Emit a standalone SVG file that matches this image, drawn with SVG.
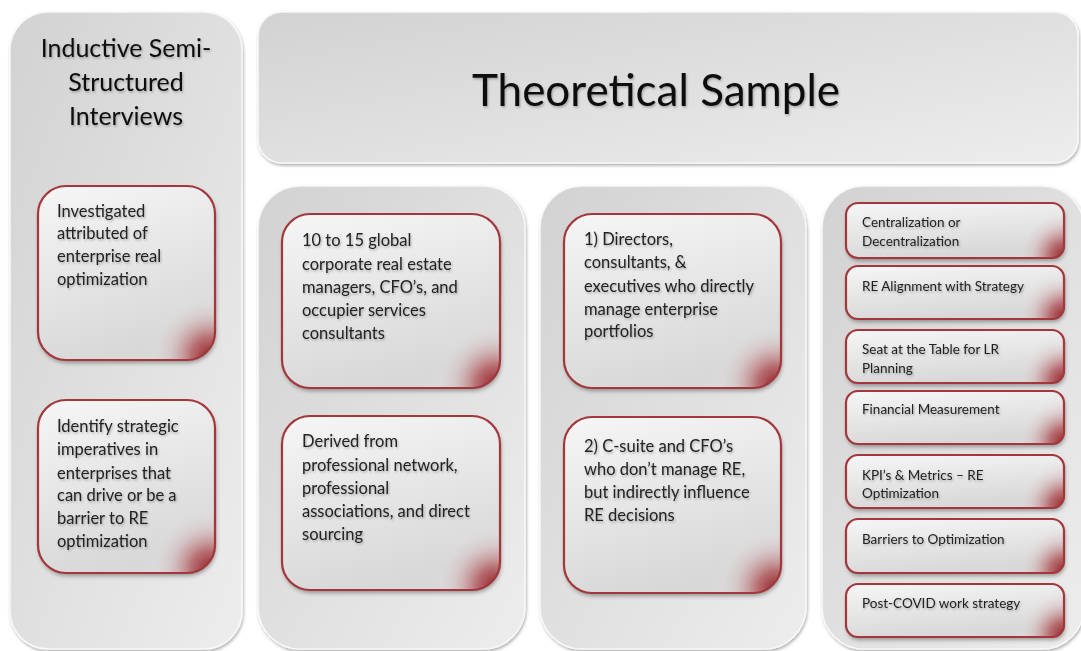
<svg xmlns="http://www.w3.org/2000/svg" width="1081" height="651" viewBox="0 0 1081 651">
  <style>
    .panel { fill: url(#panelFill); stroke: #f8f8f8; stroke-width: 1.5; filter: url(#panelShadow); }
    .box { fill: url(#boxFill); filter: url(#boxShadow); }
    .edge { fill: none; stroke: #a3373b; stroke-width: 2.2; }
    .glow { fill: url(#glowFill); }
    text { font-family: Lato, "Open Sans", "Liberation Sans", sans-serif; fill: #222; filter: url(#textShadow); }
    .title { font-size: 44px; fill: #111; }
    .head { font-size: 25px; fill: #111; text-anchor: middle; }
    .t { font-size: 16.5px; }
    .s { font-size: 13.5px; }
  </style>
  <defs>
    <linearGradient id="panelFill" x1="0" y1="0" x2="1" y2="1">
      <stop offset="0" stop-color="#d2d2d2"/>
      <stop offset="1" stop-color="#ededed"/>
    </linearGradient>
    <linearGradient id="boxFill" x1="0" y1="0" x2="0.3" y2="1">
      <stop offset="0" stop-color="#f6f6f6"/>
      <stop offset="1" stop-color="#d8d8d8"/>
    </linearGradient>
    <radialGradient id="glowFill">
      <stop offset="0" stop-color="#8a1015" stop-opacity="0.9"/>
      <stop offset="0.3" stop-color="#a2292f" stop-opacity="0.6"/>
      <stop offset="0.65" stop-color="#c98a8c" stop-opacity="0.2"/>
      <stop offset="1" stop-color="#ffffff" stop-opacity="0"/>
    </radialGradient>
    <filter id="panelShadow" x="-10%" y="-10%" width="120%" height="120%">
      <feDropShadow dx="1" dy="2" stdDeviation="1.5" flood-color="#000" flood-opacity="0.3"/>
    </filter>
    <filter id="boxShadow" x="-10%" y="-10%" width="125%" height="125%">
      <feDropShadow dx="1" dy="3" stdDeviation="2" flood-color="#000" flood-opacity="0.35"/>
    </filter>
    <filter id="textShadow" x="-5%" y="-20%" width="110%" height="150%">
      <feDropShadow dx="1" dy="1.5" stdDeviation="1.2" flood-color="#000" flood-opacity="0.28"/>
    </filter>
    <clipPath id="cL1"><rect x="38" y="186" width="177" height="174" rx="28"/></clipPath>
    <clipPath id="cL2"><rect x="38" y="400" width="177" height="173" rx="28"/></clipPath>
    <clipPath id="cA1"><rect x="282" y="214" width="218" height="174" rx="28"/></clipPath>
    <clipPath id="cA2"><rect x="282" y="416" width="218" height="174" rx="28"/></clipPath>
    <clipPath id="cB1"><rect x="564" y="214" width="217" height="174" rx="28"/></clipPath>
    <clipPath id="cB2"><rect x="564" y="417" width="217" height="176" rx="28"/></clipPath>
    <clipPath id="cC1"><rect x="846" y="203" width="218" height="55" rx="12"/></clipPath>
    <clipPath id="cC2"><rect x="846" y="266" width="218" height="53" rx="12"/></clipPath>
    <clipPath id="cC3"><rect x="846" y="330" width="218" height="53" rx="12"/></clipPath>
    <clipPath id="cC4"><rect x="846" y="391" width="218" height="53" rx="12"/></clipPath>
    <clipPath id="cC5"><rect x="846" y="455" width="218" height="53" rx="12"/></clipPath>
    <clipPath id="cC6"><rect x="846" y="519" width="218" height="54" rx="12"/></clipPath>
    <clipPath id="cC7"><rect x="846" y="584" width="218" height="53" rx="12"/></clipPath>
  </defs>

  <rect width="1081" height="651" fill="#ffffff"/>

  <!-- left column: interviews -->
  <g id="interviews">
    <rect class="panel" x="10" y="12" width="232" height="637" rx="38"/>
    <text class="head" x="126" y="57">Inductive Semi-</text>
    <text class="head" x="126" y="91">Structured</text>
    <text class="head" x="126" y="125">Interviews</text>
  </g>
  <g id="investigated">
    <rect class="box" x="38" y="186" width="177" height="174" rx="28"/>
    <circle class="glow" clip-path="url(#cL1)" cx="210" cy="356" r="62"/>
    <rect class="edge" x="38" y="186" width="177" height="174" rx="28"/>
    <text class="t" x="57" y="217">Investigated</text>
    <text class="t" x="57" y="239">attributed of</text>
    <text class="t" x="57" y="262">enterprise real</text>
    <text class="t" x="57" y="285">optimization</text>
  </g>
  <g id="identify">
    <rect class="box" x="38" y="400" width="177" height="173" rx="28"/>
    <circle class="glow" clip-path="url(#cL2)" cx="210" cy="569" r="62"/>
    <rect class="edge" x="38" y="400" width="177" height="173" rx="28"/>
    <text class="t" x="57" y="432">Identify strategic</text>
    <text class="t" x="57" y="455">imperatives in</text>
    <text class="t" x="57" y="479">enterprises that</text>
    <text class="t" x="57" y="501">can drive or be a</text>
    <text class="t" x="57" y="524">barrier to RE</text>
    <text class="t" x="57" y="547">optimization</text>
  </g>

  <!-- header -->
  <g id="theoretical-sample">
    <rect class="panel" x="258" y="12" width="820" height="151" rx="24"/>
    <text class="title" x="656" y="106" text-anchor="middle">Theoretical Sample</text>
  </g>

  <!-- column: sample size and sourcing -->
  <g id="sample-column">
    <rect class="panel" x="258" y="186" width="267" height="463" rx="42"/>
  </g>
  <g id="managers">
    <rect class="box" x="282" y="214" width="218" height="174" rx="28"/>
    <circle class="glow" clip-path="url(#cA1)" cx="495" cy="384" r="62"/>
    <rect class="edge" x="282" y="214" width="218" height="174" rx="28"/>
    <text class="t" x="302" y="246">10 to 15 global</text>
    <text class="t" x="302" y="270">corporate real estate</text>
    <text class="t" x="302" y="293">managers, CFO’s, and</text>
    <text class="t" x="302" y="316">occupier services</text>
    <text class="t" x="302" y="339">consultants</text>
  </g>
  <g id="derived">
    <rect class="box" x="282" y="416" width="218" height="174" rx="28"/>
    <circle class="glow" clip-path="url(#cA2)" cx="495" cy="586" r="62"/>
    <rect class="edge" x="282" y="416" width="218" height="174" rx="28"/>
    <text class="t" x="302" y="447">Derived from</text>
    <text class="t" x="302" y="471">professional network,</text>
    <text class="t" x="302" y="494">professional</text>
    <text class="t" x="302" y="517">associations, and direct</text>
    <text class="t" x="302" y="540">sourcing</text>
  </g>

  <!-- column: participant groups -->
  <g id="groups-column">
    <rect class="panel" x="540" y="186" width="266" height="463" rx="42"/>
  </g>
  <g id="directors">
    <rect class="box" x="564" y="214" width="217" height="174" rx="28"/>
    <circle class="glow" clip-path="url(#cB1)" cx="776" cy="384" r="62"/>
    <rect class="edge" x="564" y="214" width="217" height="174" rx="28"/>
    <text class="t" x="584" y="245">1) Directors,</text>
    <text class="t" x="584" y="268">consultants, &amp;</text>
    <text class="t" x="584" y="292">executives who directly</text>
    <text class="t" x="584" y="315">manage enterprise</text>
    <text class="t" x="584" y="337">portfolios</text>
  </g>
  <g id="c-suite">
    <rect class="box" x="564" y="417" width="217" height="176" rx="28"/>
    <circle class="glow" clip-path="url(#cB2)" cx="776" cy="589" r="62"/>
    <rect class="edge" x="564" y="417" width="217" height="176" rx="28"/>
    <text class="t" x="584" y="452">2) C-suite and CFO’s</text>
    <text class="t" x="584" y="475">who don’t manage RE,</text>
    <text class="t" x="584" y="498">but indirectly influence</text>
    <text class="t" x="584" y="521">RE decisions</text>
  </g>

  <!-- column: interview topics -->
  <g id="topics-column">
    <rect class="panel" x="822" y="186" width="262" height="463" rx="42"/>
  </g>
  <g id="topic-centralization">
    <rect class="box" x="846" y="203" width="218" height="55" rx="12"/>
    <circle class="glow" clip-path="url(#cC1)" cx="1064" cy="256" r="48"/>
    <rect class="edge" x="846" y="203" width="218" height="55" rx="12"/>
    <text class="s" x="862" y="227">Centralization or</text>
    <text class="s" x="862" y="246">Decentralization</text>
  </g>
  <g id="topic-alignment">
    <rect class="box" x="846" y="266" width="218" height="53" rx="12"/>
    <circle class="glow" clip-path="url(#cC2)" cx="1064" cy="317" r="48"/>
    <rect class="edge" x="846" y="266" width="218" height="53" rx="12"/>
    <text class="s" x="862" y="291">RE Alignment with Strategy</text>
  </g>
  <g id="topic-seat">
    <rect class="box" x="846" y="330" width="218" height="53" rx="12"/>
    <circle class="glow" clip-path="url(#cC3)" cx="1064" cy="381" r="48"/>
    <rect class="edge" x="846" y="330" width="218" height="53" rx="12"/>
    <text class="s" x="862" y="354">Seat at the Table for LR</text>
    <text class="s" x="862" y="373">Planning</text>
  </g>
  <g id="topic-financial">
    <rect class="box" x="846" y="391" width="218" height="53" rx="12"/>
    <circle class="glow" clip-path="url(#cC4)" cx="1064" cy="442" r="48"/>
    <rect class="edge" x="846" y="391" width="218" height="53" rx="12"/>
    <text class="s" x="862" y="414">Financial Measurement</text>
  </g>
  <g id="topic-kpi">
    <rect class="box" x="846" y="455" width="218" height="53" rx="12"/>
    <circle class="glow" clip-path="url(#cC5)" cx="1064" cy="506" r="48"/>
    <rect class="edge" x="846" y="455" width="218" height="53" rx="12"/>
    <text class="s" x="862" y="480">KPI’s &amp; Metrics – RE</text>
    <text class="s" x="862" y="498">Optimization</text>
  </g>
  <g id="topic-barriers">
    <rect class="box" x="846" y="519" width="218" height="54" rx="12"/>
    <circle class="glow" clip-path="url(#cC6)" cx="1064" cy="571" r="48"/>
    <rect class="edge" x="846" y="519" width="218" height="54" rx="12"/>
    <text class="s" x="862" y="544">Barriers to Optimization</text>
  </g>
  <g id="topic-covid">
    <rect class="box" x="846" y="584" width="218" height="53" rx="12"/>
    <circle class="glow" clip-path="url(#cC7)" cx="1064" cy="635" r="48"/>
    <rect class="edge" x="846" y="584" width="218" height="53" rx="12"/>
    <text class="s" x="862" y="608">Post-COVID work strategy</text>
  </g>

  <!-- no connectors in this layout -->
  <g id="connectors"/>
</svg>
